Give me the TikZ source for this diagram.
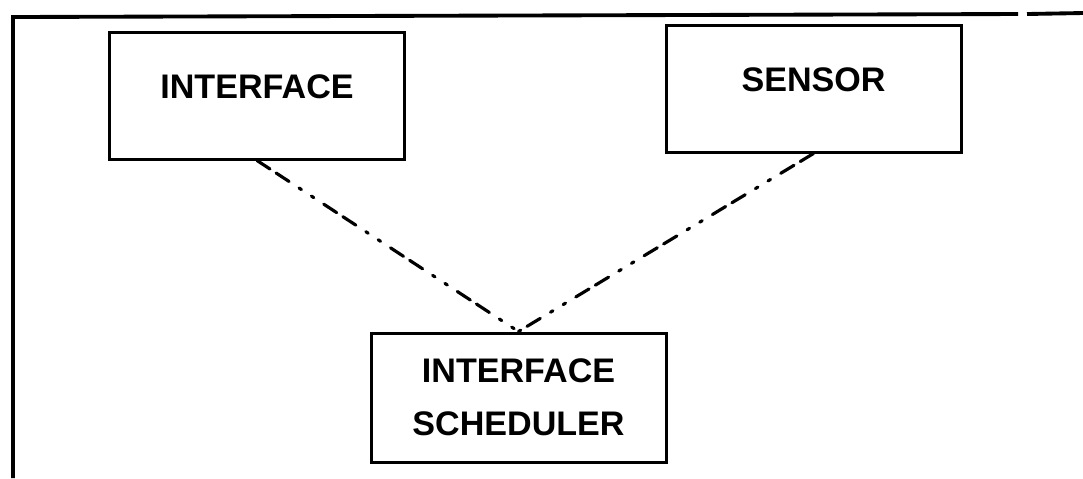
\documentclass[tikz,border=0pt]{standalone}
\usepackage{fontspec}
\setmainfont{Liberation Sans}
\usetikzlibrary{positioning}

\begin{document}
\begin{tikzpicture}[on grid,
  font=\fontsize{9.7}{15}\selectfont\bfseries,
  unit/.style={draw,line width=0.85pt,rectangle,inner ysep=0pt,minimum width=2.95cm},
  topunit/.style={unit,text height=0.66cm,text depth=0.61cm},
  lowunit/.style={unit,align=center,minimum height=1.29cm},
  frame/.style={line width=1.1pt},
  link/.style={line width=0.9pt,line cap=round,
    dash pattern=on 4.4pt off 2.1pt on 4.4pt off 3.4pt on 0.8pt off 3.4pt on 0.8pt off 3.4pt}]
  \useasboundingbox (0,0) rectangle (10.83,-4.78);
  % open frame
  \draw[frame] (0.13,-4.78) -- (0.13,-0.17) -- (10.18,-0.14);
  \draw[frame] (10.27,-0.14) -- (10.83,-0.13);
  \node[topunit] (iface) at (2.57,-0.955) {INTERFACE};
  \node[topunit] (sensor) [right=5.565cm of iface,yshift=0.07cm] {SENSOR};
  \node[lowunit] (sched) [below right=3.02cm and 2.615cm of iface] {INTERFACE\\SCHEDULER};
  \path[link]
  (iface.south) edge (sched.north)
  (sensor.south) edge (sched.north)
  ;
\end{tikzpicture}
\end{document}
